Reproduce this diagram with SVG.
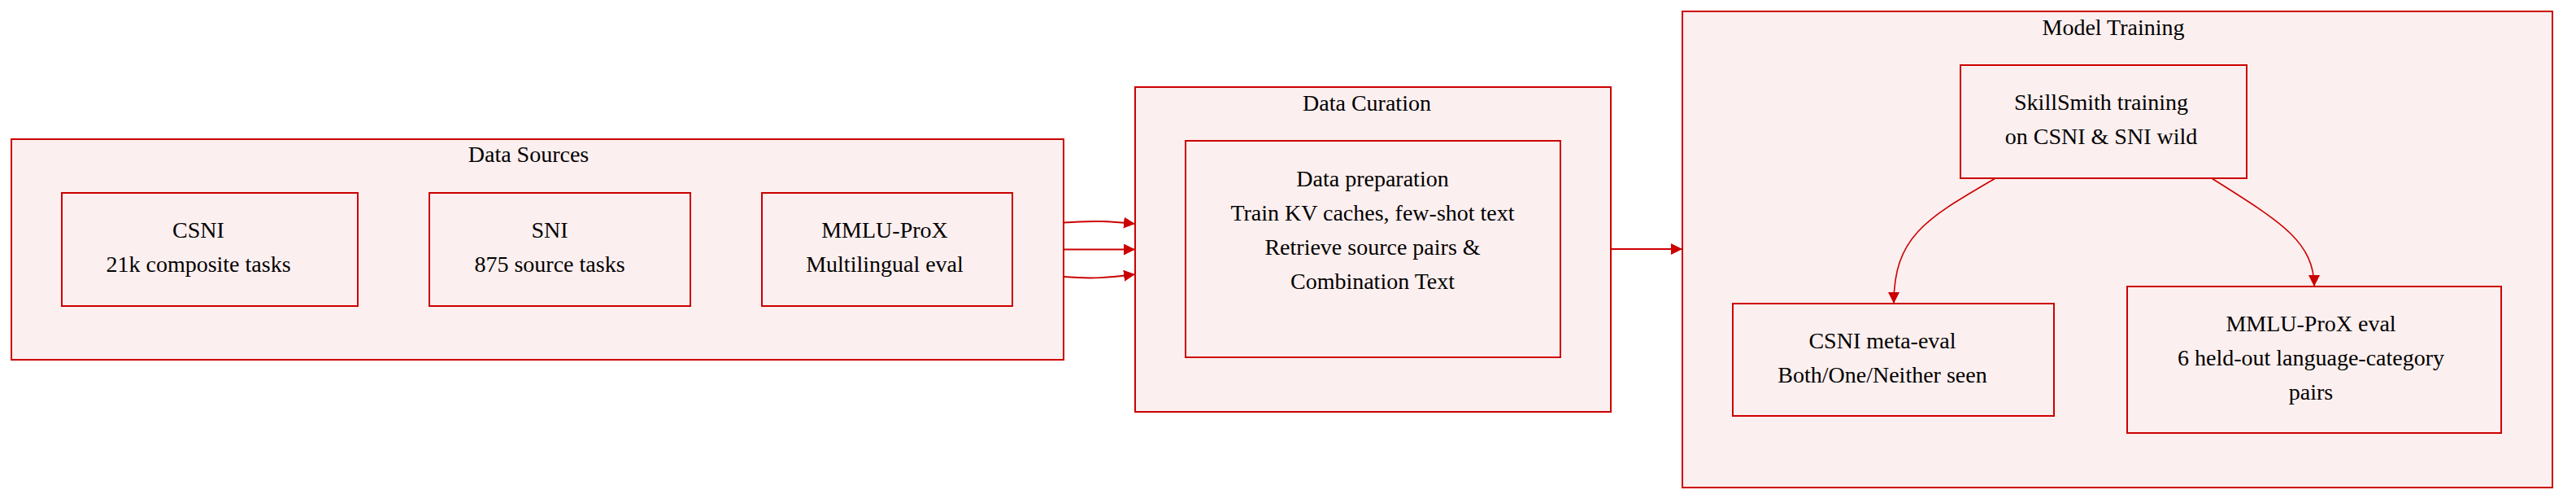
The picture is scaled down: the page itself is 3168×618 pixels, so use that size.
<svg xmlns="http://www.w3.org/2000/svg" width="3168" height="618" viewBox="0 0 3168 618">
<style>
.box{fill:#fcefef;stroke:#cc0000;stroke-width:2}
.t{font-family:"Liberation Serif","Times New Roman",serif;font-size:28px;fill:#000;text-anchor:middle}
.edge{fill:none;stroke:#cc0000;stroke-width:2}
.edge2{fill:none;stroke:#cc0000;stroke-width:1.6}
</style>
<defs>
<marker id="arr" viewBox="0 0 10 10" refX="10" refY="5" markerUnits="userSpaceOnUse" markerWidth="14" markerHeight="14" orient="auto">
<path d="M0,0 L10,5 L0,10 z" fill="#cc0000"/>
</marker>
</defs>
<rect width="3168" height="618" fill="#ffffff"/>
<g id="cluster-data-sources">
<rect class="box" x="14" y="171" width="1294" height="271"/>
<text class="t" x="650" y="199">Data Sources</text>
</g>
<g id="cluster-data-curation">
<rect class="box" x="1396" y="107" width="585" height="399"/>
<text class="t" x="1681" y="136">Data Curation</text>
</g>
<g id="cluster-model-training">
<rect class="box" x="2069" y="14" width="1070" height="585"/>
<text class="t" x="2599" y="43">Model Training</text>
</g>
<g id="node-csni">
<rect class="box" x="76" y="237" width="364" height="139"/>
<text class="t" x="244" y="292">CSNI</text>
<text class="t" x="244" y="334">21k composite tasks</text>
</g>
<g id="node-sni">
<rect class="box" x="528" y="237" width="321" height="139"/>
<text class="t" x="676" y="292">SNI</text>
<text class="t" x="676" y="334">875 source tasks</text>
</g>
<g id="node-mmlu">
<rect class="box" x="937" y="237" width="308" height="139"/>
<text class="t" x="1088" y="292">MMLU-ProX</text>
<text class="t" x="1088" y="334">Multilingual eval</text>
</g>
<g id="node-dataprep">
<rect class="box" x="1458" y="173" width="461" height="266"/>
<text class="t" x="1688" y="229">Data preparation</text>
<text class="t" x="1688" y="271">Train KV caches, few-shot text</text>
<text class="t" x="1688" y="313">Retrieve source pairs &amp;</text>
<text class="t" x="1688" y="355">Combination Text</text>
</g>
<g id="node-skillsmith">
<rect class="box" x="2411" y="80" width="352" height="139"/>
<text class="t" x="2584" y="135">SkillSmith training</text>
<text class="t" x="2584" y="177">on CSNI &amp; SNI wild</text>
</g>
<g id="node-csni-meta">
<rect class="box" x="2131" y="373" width="395" height="138"/>
<text class="t" x="2315" y="428">CSNI meta-eval</text>
<text class="t" x="2315" y="470">Both/One/Neither seen</text>
</g>
<g id="node-mmlu-eval">
<rect class="box" x="2616" y="352" width="460" height="180"/>
<text class="t" x="2842" y="407">MMLU-ProX eval</text>
<text class="t" x="2842" y="449">6 held-out language-category</text>
<text class="t" x="2842" y="491">pairs</text>
</g>
<g id="connectors">
<path class="edge" d="M1308,273.5 C1345,270.5 1365,272 1396,275" marker-end="url(#arr)"/>
<path class="edge" d="M1308,306.5 L1396,306.5" marker-end="url(#arr)"/>
<path class="edge" d="M1308,340 C1345,343 1365,341 1396,337" marker-end="url(#arr)"/>
<path class="edge" d="M1981,306 L2069,306" marker-end="url(#arr)"/>
<path class="edge2" d="M2454,219 C2370,268 2329,290 2329,373" marker-end="url(#arr)"/>
<path class="edge2" d="M2720,219 C2800,270 2846,295 2846,352" marker-end="url(#arr)"/>
</g>
</svg>
